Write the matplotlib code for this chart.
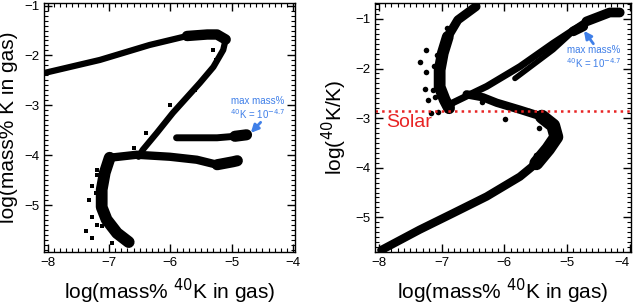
import matplotlib.pyplot as plt
from matplotlib.ticker import MultipleLocator

plt.rcParams['font.family'] = ['Liberation Sans', 'DejaVu Sans']

# ---- left panel: log(mass% K in gas) vs log(mass% 40K in gas) ----
l_top_x = [-8.05, -7.15, -6.34, -5.73, -5.40, -5.24, -5.10]
l_top_y = [-2.35, -2.09, -1.79, -1.61, -1.58, -1.58, -1.68]
l_diag_x = [-5.10, -5.14, -5.30, -5.52, -5.96, -6.22, -6.45, -6.52]
l_diag_y = [-1.68, -1.89, -2.23, -2.55, -3.15, -3.55, -3.89, -4.03]
l_k4_x = [-6.99, -6.55, -6.01, -5.57, -5.24, -4.98, -4.91]
l_k4_y = [-4.05, -3.99, -4.03, -4.09, -4.19, -4.13, -4.11]
l_low_x = [-6.99, -7.07, -7.12, -7.12, -7.04, -6.87, -6.68]
l_low_y = [-4.05, -4.35, -4.69, -5.04, -5.29, -5.56, -5.74]
l_short_x = [-5.90, -5.24, -4.95, -4.76]
l_short_y = [-3.65, -3.65, -3.62, -3.59]
l_out_x = [-6.01, -7.20, -7.20, -7.27, -7.22, -7.32, -7.28, -7.20, -7.12, -7.38, -7.27, -6.96,
           -5.30, -5.25, -5.45, -5.60, -6.40, -6.60]
l_out_y = [-2.99, -4.29, -4.39, -4.61, -4.75, -4.89, -5.23, -5.39, -5.41, -5.51, -5.66, -5.76,
           -1.90, -2.10, -2.45, -2.70, -3.55, -3.85]

# ---- right panel: log(40K/K) vs log(mass% 40K in gas) ----
r_s_x = [-7.96, -7.35, -6.82, -6.28, -5.75, -5.49, -5.30, -5.17, -5.22, -5.40, -5.75, -6.12, -6.34, -6.60]
r_s_y = [-5.66, -5.25, -4.92, -4.58, -4.18, -3.91, -3.62, -3.38, -3.15, -2.97, -2.83, -2.69, -2.58, -2.52]
r_left_x = [-6.45, -6.74, -6.90, -6.98, -7.03, -7.03, -6.95, -6.88]
r_left_y = [-0.75, -1.02, -1.36, -1.69, -2.03, -2.37, -2.63, -2.80]
r_right_x = [-6.88, -6.82, -6.28, -5.75, -5.22, -4.69, -4.32, -4.16]
r_right_y = [-2.80, -2.69, -2.36, -1.96, -1.49, -1.05, -0.87, -0.87]
r_short_x = [-5.83, -5.22, -4.90, -4.74]
r_short_y = [-2.20, -1.62, -1.25, -1.15]
r_out_x = [-7.35, -7.24, -7.24, -7.08, -7.26, -7.14, -7.22, -7.11, -7.16, -6.92, -5.99, -6.36,
           -7.05, -7.12, -5.60, -5.45, -5.35, -5.50]
r_out_y = [-1.86, -1.63, -2.06, -1.73, -2.42, -2.43, -2.63, -2.57, -2.90, -1.19, -3.02, -2.67,
           -2.88, -1.95, -2.85, -3.20, -3.05, -3.75]

x_ticks = [-8, -7, -6, -5, -4]
solar = -2.85
ann_text = 'max mass%\n$^{40}$K = 10$^{-4.7}$'
blue = '#3f7fe8'
red = '#e82424'


def band(ax, xs, ys, lw):
    ax.plot(xs, ys, color='black', lw=lw, solid_capstyle='round',
            solid_joinstyle='round')


def style(ax, ylabel):
    ax.set_xticks(x_ticks)
    ax.yaxis.set_major_locator(MultipleLocator(1))
    ax.xaxis.set_minor_locator(MultipleLocator(0.1))
    ax.yaxis.set_minor_locator(MultipleLocator(0.1))
    ax.tick_params(which='both', direction='in', top=True, right=True, labelsize=9.5)
    ax.tick_params(which='major', length=5.5, width=1)
    ax.tick_params(which='minor', length=3, width=0.8)
    for sp in ax.spines.values():
        sp.set_linewidth(1)
    ax.set_xlabel('log(mass% $^{40}$K in gas)', fontsize=15, labelpad=6)
    ax.set_ylabel(ylabel, fontsize=15, labelpad=4)


fig = plt.figure(figsize=(6.35, 3.07), dpi=100)
ax1 = fig.add_axes([0.0693, 0.179, 0.3953, 0.811])
ax2 = fig.add_axes([0.5906, 0.179, 0.4031, 0.811])

arrow = dict(arrowstyle='-|>', color=blue, lw=2, mutation_scale=11,
             shrinkA=0, shrinkB=0)

# left
band(ax1, l_top_x, l_top_y, 4.5)
band(ax1, l_top_x[3:], l_top_y[3:], 7.5)
band(ax1, l_diag_x, l_diag_y, 4.5)
band(ax1, l_k4_x, l_k4_y, 6)
band(ax1, l_k4_x[4:], l_k4_y[4:], 8)
band(ax1, l_low_x, l_low_y, 8.5)
band(ax1, l_short_x, l_short_y, 5)
band(ax1, l_short_x[2:], l_short_y[2:], 8)
ax1.scatter(l_out_x, l_out_y, marker='s', s=12, color='black', lw=0)
ax1.text(-4.58, -3.07, ann_text, color=blue, fontsize=7, ha='center', va='center',
         linespacing=1.1)
ax1.annotate('', xy=(-4.69, -3.55), xytext=(-4.53, -3.34), arrowprops=arrow)
ax1.set_xlim(-8.06, -3.97)
ax1.set_ylim(-5.94, -0.95)
style(ax1, 'log(mass% K in gas)')

# right
band(ax2, r_s_x, r_s_y, 6)
band(ax2, r_s_x[5:10], r_s_y[5:10], 10)
band(ax2, r_left_x, r_left_y, 6.5)
band(ax2, r_left_x[2:], r_left_y[2:], 8.5)
band(ax2, r_right_x, r_right_y, 5)
band(ax2, r_right_x[5:], r_right_y[5:], 7)
band(ax2, r_short_x, r_short_y, 4)
band(ax2, r_short_x[2:], r_short_y[2:], 7)
ax2.scatter(r_out_x, r_out_y, marker='o', s=16, color='black', lw=0)
ax2.axhline(solar, color=red, ls=':', lw=1.8)
ax2.text(-7.88, -3.18, 'Solar', color=red, fontsize=14, ha='left', va='baseline')
ax2.text(-4.57, -1.77, ann_text, color=blue, fontsize=7, ha='center', va='center',
         linespacing=1.1)
ax2.annotate('', xy=(-4.73, -1.24), xytext=(-4.58, -1.50), arrowprops=arrow)
ax2.set_xlim(-8.06, -3.98)
ax2.set_ylim(-5.70, -0.68)
style(ax2, 'log($^{40}$K/K)')
ax2.get_xticklabels()[-1].set_horizontalalignment('right')

fig.savefig('out.png', dpi=100)
